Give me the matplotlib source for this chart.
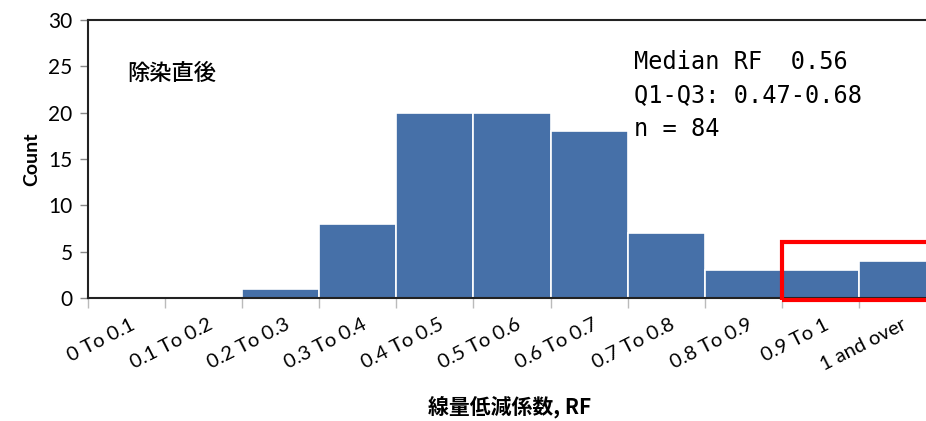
import matplotlib.pyplot as plt
import matplotlib.patches as patches
import numpy as np

bins = ['0 To 0.1', '0.1 To 0.2', '0.2 To 0.3', '0.3 To 0.4', '0.4 To 0.5', '0.5 To 0.6',
        '0.6 To 0.7', '0.7 To 0.8', '0.8 To 0.9', '0.9 To 1', '1 and over']
counts = [0, 0, 1, 8, 20, 20, 18, 7, 3, 3, 4]
stats_text = 'Median RF  0.56\nQ1-Q3: 0.47-0.68\nn = 84'
title_jp = '除染直後'
xlabel_jp = '線量低減係数, RF'

plt.rcParams['font.family'] = ['Lato', 'Noto Sans CJK JP', 'DejaVu Sans']

fig = plt.figure(figsize=(9.26, 4.21), dpi=100)
ax = fig.add_axes([88 / 926, 1 - 298 / 421, (936 - 88) / 926, 278 / 421])

x = np.arange(len(bins))
ax.bar(x, counts, width=1.0, color='#4670a8', edgecolor='white', linewidth=1.2, zorder=2)

ax.set_xlim(-0.5, len(bins) - 0.5)
ax.set_ylim(0, 30)
ax.set_yticks([0, 5, 10, 15, 20, 25, 30])
ax.tick_params(axis='y', labelsize=15, length=6, width=1, color='#888888', pad=5)

ax.set_xticks(x + 0.05)
ax.set_xticklabels(bins, rotation=27, ha='right', rotation_mode='anchor', fontsize=14.5)
ax.tick_params(axis='x', which='major', length=0, pad=13)
ax.set_xticks(np.arange(-0.5, len(bins), 1.0), minor=True)
ax.tick_params(axis='x', which='minor', length=7, width=1, color='#bbbbbb')

for s in ['left', 'top', 'bottom']:
    ax.spines[s].set_linewidth(1.5)
    ax.spines[s].set_color('#222222')
ax.spines['right'].set_visible(False)

ax.set_ylabel('Count', fontsize=14, fontweight='bold', labelpad=6)
fig.text(510 / 926, 1 - 407 / 421, xlabel_jp, ha='center', va='center', fontsize=15,
         fontweight='bold', family=['Noto Sans CJK JP', 'DejaVu Sans'])

fig.text(127 / 926, 1 - 73 / 421, title_jp, ha='left', va='center', fontsize=16,
         fontweight='medium', family=['Noto Sans CJK JP'])
fig.text(634 / 926, 1 - 50 / 421, stats_text, ha='left', va='top', fontsize=17,
         family='DejaVu Sans Mono', linespacing=1.5)

rect = patches.Rectangle((8.5, -0.2), 2.5, 6.2, fill=False, edgecolor='#ff0000',
                         linewidth=3, clip_on=False, zorder=3)
ax.add_patch(rect)

fig.savefig('out.png', dpi=100)
